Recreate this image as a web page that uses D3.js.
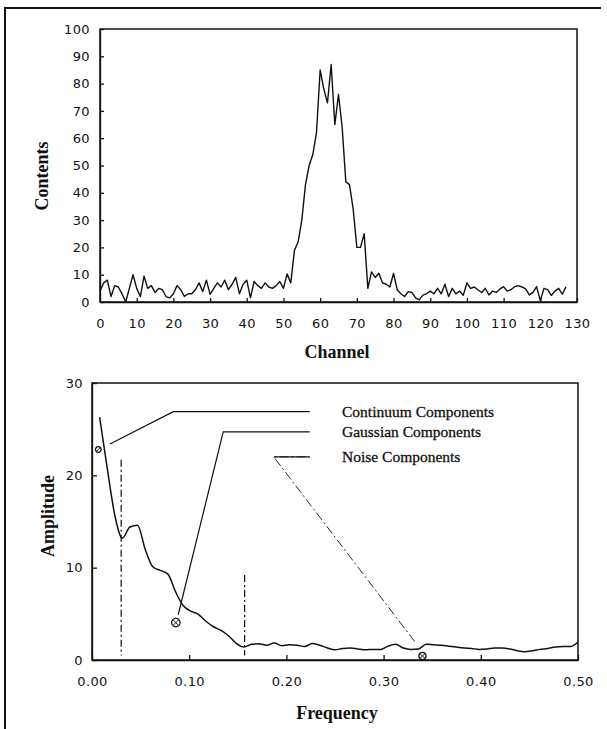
<!doctype html>
<html>
<head>
<meta charset="UTF-8">
<title>spectrum</title>
<script src="https://d3js.org/d3.v7.min.js"></script>
<style>
  body{margin:0;background:#fff;}
  .ax text{font-family:"DejaVu Sans",sans-serif;font-size:13px;letter-spacing:0.4px;fill:#111;}
  .ax line,.ax path{stroke:#111;stroke-width:1.3;}
  .ttl{font-family:"Liberation Serif",serif;font-size:18px;font-weight:bold;fill:#111;}
  .lgd{font-family:"Liberation Serif",serif;font-size:15.5px;fill:#111;stroke:#111;stroke-width:0.3;}
</style>
</head>
<body>
<svg id="chart" width="607" height="729"></svg>
<script>
// ---- data ----
var contents = [4, 7, 8, 2, 6, 5.5, 3, 0, 5, 10, 5, 2, 9.5, 5, 6, 3.5,
  5, 4.5, 2, 1.5, 3, 6, 4.5, 2, 3, 3, 4.5, 7, 3.8, 8, 2.8, 5,
  7, 5.5, 8, 4.5, 6.5, 9, 3, 6.5, 8, 1.5, 7.5, 6, 5, 7, 5.5, 5,
  6, 7.5, 5, 10.3, 7, 19, 22, 30, 43, 50, 54, 62, 85, 78, 73, 87,
  65, 76, 64, 44, 43, 34, 20, 20, 25, 5, 11, 9, 10.5, 7, 6.5, 5.5,
  10.5, 4.5, 3, 2, 3.8, 3.5, 1.5, 0.8, 2.5, 3, 4, 3, 5, 3, 6.5, 2,
  5, 3, 4, 2.5, 7, 5, 5.5, 4.5, 3.5, 5, 2.6, 4, 3.5, 4.8, 5.6, 4,
  4.5, 5.6, 6, 5.5, 4.8, 2.6, 3.5, 5.6, 0.5, 5, 4.5, 2.4, 4, 5, 2.9, 5.6];
var channels = d3.range(contents.length);

var binWidth = 1 / 128;   // amplitude k sits at frequency k/128
var amplitude = [26.3, 20.8, 15.7, 13.2, 14.4, 14.6, 12.0, 10.1, 9.7, 9.3, 7.4, 5.9, 5.3, 4.95, 4.2, 3.6,
  3.2, 2.6, 1.8, 1.4, 1.7, 1.75, 1.6, 1.85, 1.55, 1.65, 1.6, 1.45, 1.8, 1.6, 1.3, 1.1,
  1.25, 1.3, 1.2, 1.1, 1.15, 1.15, 1.5, 1.7, 1.3, 1.15, 1.2, 1.7, 1.65, 1.6, 1.5, 1.4,
  1.3, 1.25, 1.15, 1.2, 1.3, 1.3, 1.2, 1.0, 0.9, 1.0, 1.15, 1.25, 1.4, 1.45, 1.45, 1.95];

var contentTicks = [0, 10, 20, 30, 40, 50, 60, 70, 80, 90, 100];
var channelTicks = [0, 10, 20, 30, 40, 50, 60, 70, 80, 90, 100, 110, 120, 130];
var ampTicks = [0, 10, 20, 30];
var freqTicks = [0, 0.1, 0.2, 0.3, 0.4, 0.5];

// cut-off frequencies (dash-dot verticals): [freq, top amplitude]
var cutoffs = [[0.03, 21.7], [0.157, 9.2]];
// legend labels with marker point and leader path (freq, amplitude)
var componentNames = ["Continuum Components", "Gaussian Components", "Noise Components"];
var markerPts = [[0.0065, 22.8], [0.0863, 4.05], [0.340, 0.43]];
var leaders = [
  [[0.0185, 23.4], [0.0836, 26.9], [0.224, 26.9]],
  [[0.0887, 4.9], [0.135, 24.7], [0.224, 24.7]],
  [[0.332, 2.0], [0.187, 22.0], [0.224, 22.0]]
];

// ---- drawing ----
var svg = d3.select("#chart");

// outer frame (left + top only)
svg.append("path").attr("d", "M5,729 L5,8 L601,8")
   .attr("fill", "none").attr("stroke", "#111").attr("stroke-width", 2);

// top chart
var x1 = d3.scaleLinear().domain([0, 130]).range([100, 577]);
var y1 = d3.scaleLinear().domain([0, 100]).range([302, 29]);

svg.append("rect").attr("x", x1(0)).attr("y", y1(100))
   .attr("width", x1(130) - x1(0)).attr("height", y1(0) - y1(100))
   .attr("fill", "none").attr("stroke", "#111").attr("stroke-width", 1.5);

svg.append("g").attr("class", "ax").attr("transform", "translate(0," + y1(0) + ")")
   .call(d3.axisBottom(x1).tickValues(channelTicks).tickSizeInner(-4).tickSizeOuter(0).tickPadding(17));
svg.append("g").attr("class", "ax").attr("transform", "translate(" + x1(0) + ",0)")
   .call(d3.axisLeft(y1).tickValues(contentTicks).tickSizeInner(-4).tickSizeOuter(0).tickPadding(10));

svg.append("path").datum(channels)
   .attr("fill", "none").attr("stroke", "#111").attr("stroke-width", 1.4)
   .attr("stroke-linejoin", "round")
   .attr("d", d3.line().x(function(d){ return x1(d); }).y(function(d){ return y1(contents[d]); }));

svg.append("text").attr("class", "ttl").attr("text-anchor", "middle")
   .attr("transform", "translate(48,176) rotate(-90)").text("Contents");
svg.append("text").attr("class", "ttl").attr("text-anchor", "middle")
   .attr("x", 337).attr("y", 358).text("Channel");

// bottom chart
var x2 = d3.scaleLinear().domain([0, 0.5]).range([92, 578]);
var y2 = d3.scaleLinear().domain([0, 30]).range([660, 383]);

svg.append("rect").attr("x", x2(0)).attr("y", y2(30))
   .attr("width", x2(0.5) - x2(0)).attr("height", y2(0) - y2(30))
   .attr("fill", "none").attr("stroke", "#111").attr("stroke-width", 1.5);

svg.append("g").attr("class", "ax").attr("transform", "translate(0," + y2(0) + ")")
   .call(d3.axisBottom(x2).tickValues(freqTicks).tickFormat(d3.format(".2f"))
   .tickSizeInner(-5).tickSizeOuter(0).tickPadding(17));
svg.append("g").attr("class", "ax").attr("transform", "translate(" + x2(0) + ",0)")
   .call(d3.axisLeft(y2).tickValues(ampTicks).tickSizeInner(-5).tickSizeOuter(0).tickPadding(9));

svg.append("path").datum(amplitude)
   .attr("fill", "none").attr("stroke", "#111").attr("stroke-width", 1.5)
   .attr("d", d3.line().curve(d3.curveMonotoneX)
      .x(function(d, i){ return x2((i + 1) * binWidth); })
      .y(function(d){ return y2(d); }));

svg.selectAll(".cut").data(cutoffs).enter().append("line").attr("class", "cut")
   .attr("x1", function(d){ return x2(d[0]); }).attr("x2", function(d){ return x2(d[0]); })
   .attr("y1", function(d){ return y2(d[1]); }).attr("y2", y2(0.5))
   .attr("stroke", "#111").attr("stroke-width", 1.2).attr("stroke-dasharray", "7,3,2,3");

var lead = d3.line().x(function(d){ return x2(d[0]); }).y(function(d){ return y2(d[1]); });
svg.selectAll(".lead").data(leaders).enter().append("path").attr("class", "lead")
   .attr("fill", "none").attr("stroke", "#111")
   .attr("stroke-width", function(d, i){ return i == 2 ? 0.9 : 1.2; })
   .attr("stroke-dasharray", function(d, i){ return i == 2 ? "9,3,2,3" : null; })
   .attr("d", lead);
// solid horizontal stub on the noise leader
svg.append("path").datum(leaders[2].slice(1))
   .attr("fill", "none").attr("stroke", "#111").attr("stroke-width", 1.2).attr("d", lead);

var mk = svg.selectAll(".mk").data(markerPts).enter().append("g").attr("class", "mk")
   .attr("transform", function(d){ return "translate(" + x2(d[0]) + "," + y2(d[1]) + ")"; });
var rads = [2.8, 4.2, 3.6];
mk.append("circle").attr("r", function(d, i){ return rads[i]; })
   .attr("fill", "#fff").attr("stroke", "#111").attr("stroke-width", 1.3);
mk.append("path").attr("stroke", "#111").attr("stroke-width", 1)
   .attr("d", function(d, i){
       var r = rads[i] * 0.7;
       return i == 0 ? "M" + (-r) + "," + r + "L" + r + "," + (-r)
                     : "M" + (-r) + "," + (-r) + "L" + r + "," + r + "M" + (-r) + "," + r + "L" + r + "," + (-r);
   });

svg.selectAll(".lgd").data(componentNames).enter().append("text").attr("class", "lgd")
   .attr("x", 342).attr("y", function(d, i){ return y2(leaders[i][2][1]) + 5; })
   .text(function(d){ return d; });

svg.append("text").attr("class", "ttl").attr("text-anchor", "middle")
   .attr("transform", "translate(54,516) rotate(-90)").text("Amplitude");
svg.append("text").attr("class", "ttl").attr("text-anchor", "middle")
   .attr("x", 337).attr("y", 719).text("Frequency");
</script>
</body>
</html>
